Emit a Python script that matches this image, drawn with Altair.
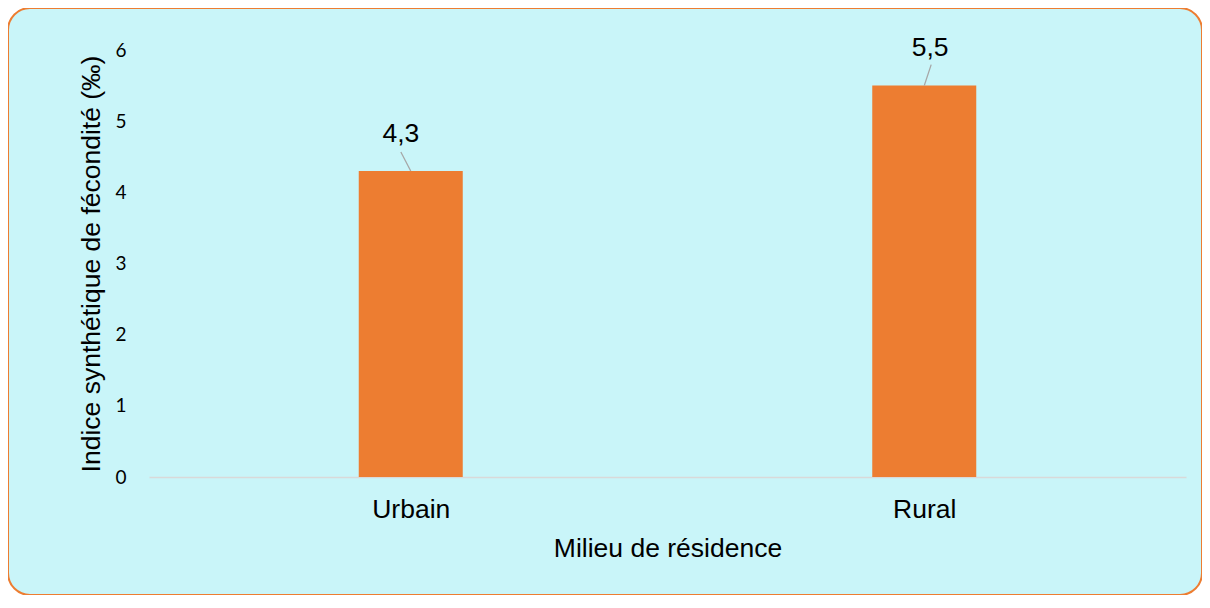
import altair as alt
import pandas as pd

# ---- data ----
categories = ["Urbain", "Rural"]
values = [4.3, 5.5]
value_labels = ["4,3", "5,5"]
y_ticks = [0, 1, 2, 3, 4, 5, 6]

# ---- style / placement (pixels) ----
VIEW_W, VIEW_H = 1194, 587
X_RANGE = [141, 1178]
Y_RANGE = [469, 42]
BAND = (X_RANGE[1] - X_RANGE[0]) / len(categories)
PX_X = 1.0 / BAND                       # data units per pixel along x
PX_Y = 6.0 / (Y_RANGE[0] - Y_RANGE[1])  # data units per pixel along y
# leader line: (start dx, start dy above bar top, end dx, end dy) per bar
LEADER = [(-10, 19, 0, 0), (7, 21, 0, 0)]
# label: (dx, baseline dy above bar top) per bar
LABEL = [(-10, 29), (6, 30)]

ORANGE = "#ED7D31"
BG = "#C9F5F9"
FONT = "Liberation Sans"
BIG = 26.5

idx = list(range(len(categories)))
bars = pd.DataFrame({"i": idx, "cat": categories, "v": values})

lbl = pd.DataFrame({
    "i": [i + LABEL[i][0] * PX_X for i in idx],
    "v": [values[i] + LABEL[i][1] * PX_Y for i in idx],
    "t": value_labels,
})

rows = []
for i in idx:
    rows.append({"g": i, "o": 0, "i": i + LEADER[i][0] * PX_X,
                 "v": values[i] + LEADER[i][1] * PX_Y})
    rows.append({"g": i, "o": 1, "i": i + LEADER[i][2] * PX_X,
                 "v": values[i] + LEADER[i][3] * PX_Y})
lead = pd.DataFrame(rows)

label_expr = "[" + ",".join("'%s'" % c for c in categories) + "][datum.value]"

x_scale = alt.Scale(domain=[-0.5, len(categories) - 0.5], range=X_RANGE, nice=False, zero=False)
y_scale = alt.Scale(domain=[0, 6], range=Y_RANGE, nice=False)

x_axis = alt.Axis(
    values=idx, labelExpr=label_expr, title="Milieu de résidence",
    offset=-(VIEW_H - Y_RANGE[0]), grid=False, ticks=False, tickSize=0,
    domainColor="#D9D9D9", domainWidth=1.5,
    labelFont=FONT, labelFontSize=BIG, labelColor="#000000", labelPadding=19,
    titleFont=FONT, titleFontSize=BIG, titleFontWeight="normal", titleColor="#000000",
    titlePadding=13,
)
y_axis = alt.Axis(
    values=y_ticks, format="d", title="Indice synthétique de fécondité (‰)",
    offset=-X_RANGE[0], grid=False, ticks=False, tickSize=0, domain=False,
    labelFont="Lato", labelFontSize=19, labelColor="#000000", labelPadding=23,
    titleFont=FONT, titleFontSize=BIG, titleFontWeight="normal", titleColor="#000000",
    titlePadding=9,
)

bar_layer = alt.Chart(bars).mark_bar(size=104, color=ORANGE).encode(
    x=alt.X("i:Q", scale=x_scale, axis=x_axis),
    y=alt.Y("v:Q", scale=y_scale, axis=y_axis),
)

lead_layer = alt.Chart(lead).mark_line(color="#A6A6A6", strokeWidth=1.3).encode(
    x=alt.X("i:Q", scale=x_scale),
    y=alt.Y("v:Q", scale=y_scale),
    detail="g:N",
    order="o:Q",
)

text_layer = alt.Chart(lbl).mark_text(
    font=FONT, fontSize=BIG, color="#000000", baseline="alphabetic", align="center"
).encode(
    x=alt.X("i:Q", scale=x_scale),
    y=alt.Y("v:Q", scale=y_scale),
    text="t:N",
)

chart = alt.layer(bar_layer, lead_layer, text_layer).properties(
    width=VIEW_W, height=VIEW_H,
    autosize=alt.AutoSizeParams(type="none"),
    padding=0,
    background="#FFFFFF",
).configure_view(
    fill=BG, stroke=ORANGE, strokeWidth=2, cornerRadius=22,
)

chart.save("out.html", embed_options={"renderer": "svg", "actions": False})
